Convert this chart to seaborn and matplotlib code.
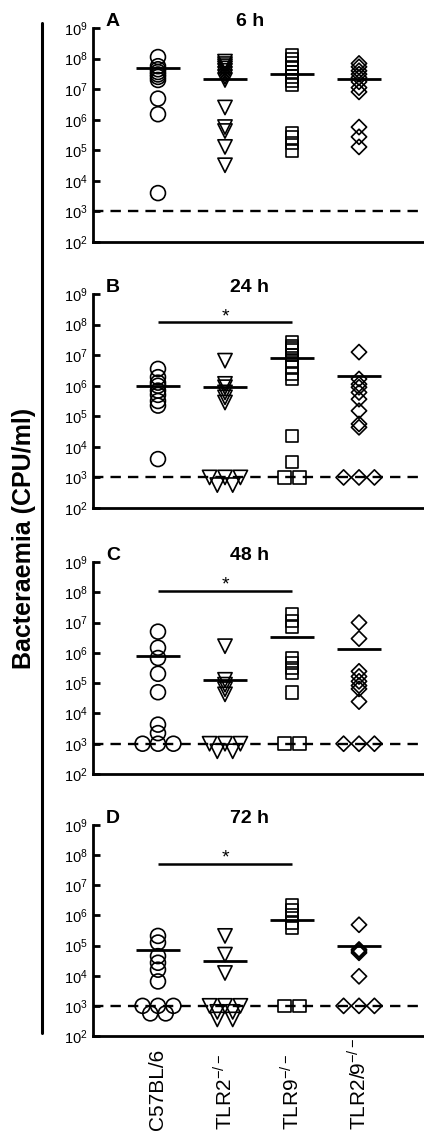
import numpy as np
import pandas as pd
import matplotlib
matplotlib.use('Agg')
import matplotlib.pyplot as plt
from matplotlib.lines import Line2D
from matplotlib.ticker import NullLocator
from matplotlib.transforms import blended_transform_factory
import seaborn as sns

# mouse strains (x categories)
groups = ['C57BL/6', 'TLR2$^{-/-}$', 'TLR9$^{-/-}$', 'TLR2/9$^{-/-}$']

# bacteraemia, log10(CFU/ml)
# 6 h
c57_6h = [8.05, 7.75, 7.65, 7.56, 7.48, 7.4, 7.3, 6.69, 6.18, 3.6]
tlr2_6h = [7.9, 7.82, 7.75, 7.68, 7.6, 7.5, 7.4, 7.3, 6.4, 5.76, 5.63, 5.11, 4.51]
tlr9_6h = [8.1, 7.97, 7.84, 7.7, 7.56, 7.42, 7.29, 7.13, 5.57, 5.42, 5.24, 4.98]
tlr29_6h = [7.84, 7.73, 7.6, 7.49, 7.38, 7.24, 7.05, 6.91, 5.76, 5.44, 5.11]
mean_6h = [7.7, 7.32, 7.51, 7.33]

# 24 h
c57_24h = [6.55, 6.28, 6.1, 6.0, 5.84, 5.7, 5.5, 5.35, 3.6]
tlr2_24h = [6.82, 6.06, 5.95, 5.78, 5.62, 5.45, 3.0, 3.0, 3.0, 2.75, 2.75]
tlr9_24h = [7.42, 7.3, 7.22, 7.15, 7.0, 6.82, 6.6, 6.38, 6.22, 4.36, 3.5, 3.0, 3.0]
tlr29_24h = [7.1, 6.22, 6.05, 5.95, 5.78, 5.56, 5.18, 4.75, 4.64, 3.0, 3.0, 3.0]
mean_24h = [5.98, 5.97, 6.91, 6.33]

# 48 h
c57_48h = [6.7, 6.17, 5.83, 5.31, 4.7, 3.63, 3.35, 3.0, 3.0, 3.0]
tlr2_48h = [6.22, 5.11, 4.95, 4.8, 4.63, 3.0, 3.0, 3.0, 2.75, 2.75]
tlr9_48h = [7.28, 7.05, 6.85, 5.83, 5.67, 5.5, 5.33, 4.7, 3.0, 3.0]
tlr29_48h = [7.0, 6.47, 5.39, 5.22, 5.06, 4.92, 4.81, 4.39, 3.0, 3.0, 3.0]
mean_48h = [5.9, 5.11, 6.54, 6.13]

# 72 h
c57_72h = [5.32, 5.1, 4.65, 4.43, 4.2, 3.81, 3.0, 3.0, 3.0, 2.75, 2.75]
tlr2_72h = [5.32, 4.7, 4.09, 3.0, 3.0, 3.0, 2.8, 2.8, 2.55, 2.55]
tlr9_72h = [6.33, 6.16, 5.99, 5.77, 5.6, 3.0, 3.0]
tlr29_72h = [5.69, 4.87, 4.82, 4.76, 3.98, 3.0, 3.0, 3.0]
mean_72h = [4.84, 4.48, 5.86, 4.98]

titles = ['6 h', '24 h', '48 h', '72 h']
letters = ['A', 'B', 'C', 'D']
# significance bar C57BL/6 vs TLR9-/- (log10 height), None = no bar
sig_level = [None, 8.08, 8.05, 7.72]
detection_limit = 1e3

panels = [
    ([c57_6h, tlr2_6h, tlr9_6h, tlr29_6h], mean_6h),
    ([c57_24h, tlr2_24h, tlr9_24h, tlr29_24h], mean_24h),
    ([c57_48h, tlr2_48h, tlr9_48h, tlr29_48h], mean_48h),
    ([c57_72h, tlr2_72h, tlr9_72h, tlr29_72h], mean_72h),
]

markers = ['o', 'v', 's', 'D']
sizes = [115, 105, 82, 60]


def spread(vals, step=0.115):
    # put tied values side by side
    vals = np.asarray(vals)
    offs = np.zeros(len(vals))
    for v in np.unique(vals):
        idx = np.where(vals == v)[0]
        n = len(idx)
        if n > 1:
            offs[idx] = step * (2 * np.arange(n) - (n - 1))
    return offs


sns.set_style('ticks')
plt.rcParams['font.family'] = ['Liberation Sans', 'DejaVu Sans']
plt.rcParams['mathtext.fontset'] = 'custom'
plt.rcParams['mathtext.rm'] = 'Liberation Sans'
plt.rcParams['mathtext.it'] = 'Liberation Sans:italic'
plt.rcParams['mathtext.bf'] = 'Liberation Sans:bold'
for k in ['text.color', 'axes.labelcolor', 'xtick.color', 'ytick.color', 'axes.edgecolor']:
    plt.rcParams[k] = 'black'

W, H = 424, 1133
fig = plt.figure(figsize=(W / 100, H / 100), dpi=100)
boxes = [(28, 242), (294, 508), (562, 774), (825, 1036)]
left = 93

for p, (vals_list, means) in enumerate(panels):
    top, bot = boxes[p]
    ax = fig.add_axes([left / W, 1 - bot / H, 1 - left / W, (bot - top) / H])
    ax.set_yscale('log')

    rows = []
    for gi, vals in enumerate(vals_list):
        for v, o in zip(vals, spread(vals)):
            rows.append((groups[gi], gi + o, 10 ** v))
    df = pd.DataFrame(rows, columns=['group', 'x', 'cfu'])

    ax.axhline(detection_limit, color='black', lw=1.7, ls=(0, (4.4, 3.0)), zorder=1)
    for gi, g in enumerate(groups):
        sub = df[df['group'] == g]
        sns.scatterplot(data=sub, x='x', y='cfu', marker=markers[gi], s=sizes[gi],
                        facecolor='none', edgecolor='black', linewidth=1.2,
                        legend=False, ax=ax, zorder=3)

    xs = np.arange(len(groups))
    ax.hlines([10 ** m for m in means], xs - 0.33, xs + 0.33, colors='black', lw=2, zorder=4)

    if sig_level[p] is not None:
        ax.hlines(10 ** sig_level[p], 0, 2, colors='black', lw=1.8)
        ax.text(1, 10 ** (sig_level[p] + 0.03), '*', ha='center', va='baseline', fontsize=14)

    ax.set_ylim(1e2, 1e9)
    ax.set_xlim(-0.97, 3.97)
    ax.set_yticks([10 ** k for k in range(2, 10)])
    ax.set_yticklabels([f'10$^{{{k}}}$' for k in range(2, 10)])
    ax.yaxis.set_minor_locator(NullLocator())
    ax.set_xticks([])
    ax.set_xlabel('')
    ax.set_ylabel('')
    ax.tick_params(axis='y', direction='in', length=5, width=2, labelsize=10.5, pad=4)
    sns.despine(ax=ax)
    for s in ['left', 'bottom']:
        ax.spines[s].set_linewidth(2)

    ax.text(0.06, 1.03, letters[p], transform=ax.transAxes, ha='center', va='center',
            fontsize=14, fontweight='bold')
    ax.text(0.474, 1.03, titles[p], transform=ax.transAxes, ha='center', va='center',
            fontsize=14, fontweight='bold')

    if p == 3:
        trans = blended_transform_factory(ax.transData, fig.transFigure)
        for gi, g in enumerate(groups):
            ax.text(gi, 3 / H, g, transform=trans, rotation=90, ha='center', va='bottom',
                    fontsize=15)

fig.text(24 / W, 1 - 538 / H, 'Bacteraemia (CPU/ml)', rotation=90, ha='center', va='center',
         fontsize=18, fontweight='bold')
fig.add_artist(Line2D([42 / W, 42 / W], [1 - 23 / H, 1 - 1033 / H], color='black', lw=2.2))

fig.savefig('out.png', dpi=100)
